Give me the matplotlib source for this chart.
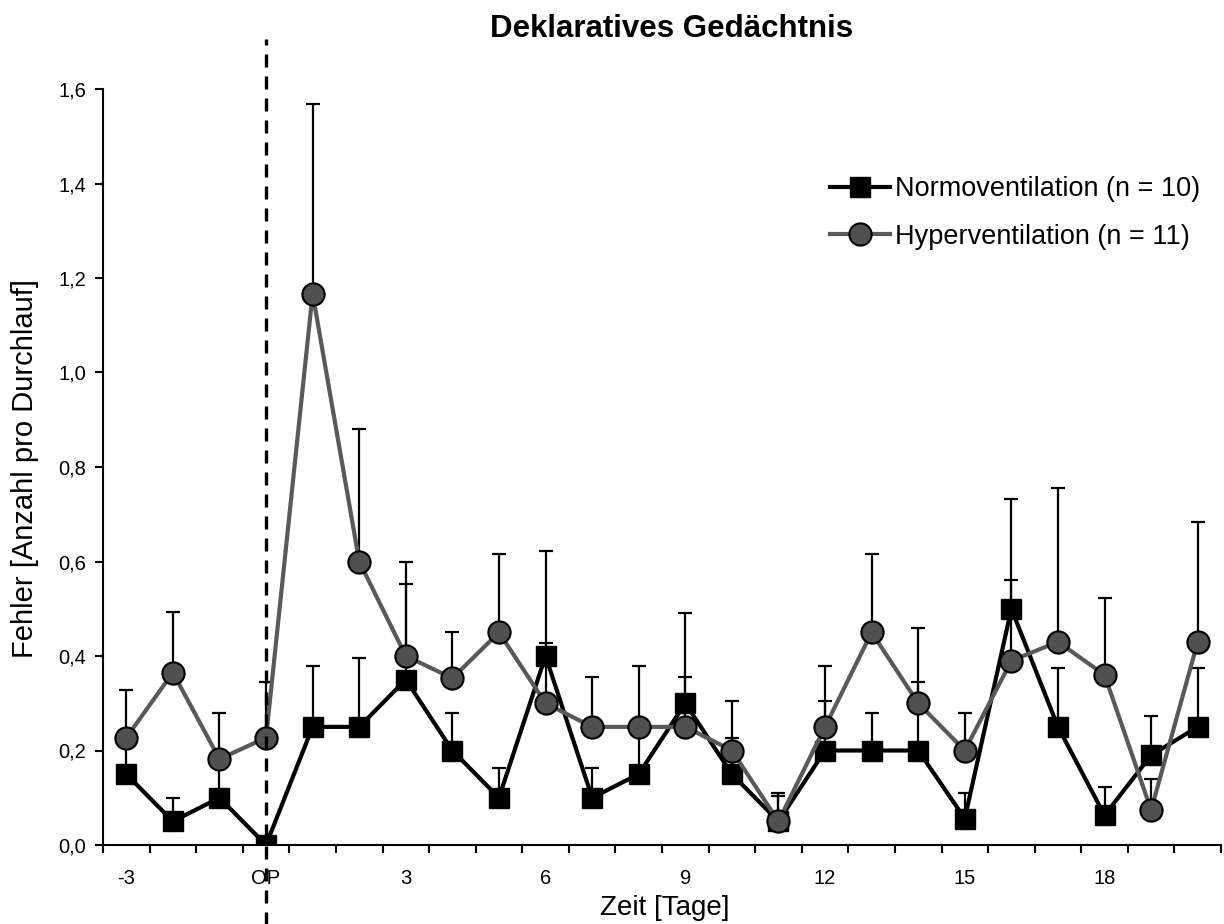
import matplotlib
matplotlib.use("Agg")
import matplotlib.pyplot as plt
from matplotlib import font_manager
import numpy as np

# Study days relative to the operation (day 0 = OP)
days = list(range(-3, 21))

# Normoventilation group: mean errors and upper error-bar ends
normo_mean = [0.15, 0.05, 0.10, 0.00, 0.25, 0.25, 0.35, 0.20, 0.10, 0.40, 0.10, 0.15,
              0.30, 0.15, 0.05, 0.20, 0.20, 0.20, 0.056, 0.50, 0.25, 0.063, 0.19, 0.25]
normo_upper = [0.23, 0.099, 0.18, 0.00, 0.379, 0.395, 0.552, 0.28, 0.164, 0.427, 0.164, 0.25,
               0.356, 0.226, 0.109, 0.305, 0.28, 0.346, 0.109, 0.561, 0.375, 0.122, 0.274, 0.375]

# Hyperventilation group: mean errors and upper error-bar ends
hyper_mean = [0.227, 0.365, 0.182, 0.227, 1.167, 0.60, 0.40, 0.353, 0.45, 0.30, 0.25, 0.25,
              0.25, 0.20, 0.05, 0.25, 0.45, 0.30, 0.20, 0.39, 0.43, 0.36, 0.074, 0.43]
hyper_upper = [0.327, 0.494, 0.28, 0.346, 1.568, 0.881, 0.598, 0.451, 0.616, 0.622, 0.356, 0.379,
               0.49, 0.305, 0.104, 0.379, 0.616, 0.46, 0.279, 0.733, 0.755, 0.523, 0.139, 0.684]

tick_days = [-3, 0, 3, 6, 9, 12, 15, 18]
tick_labels = ["-3", "OP", "3", "6", "9", "12", "15", "18"]
y_ticks = [0.0, 0.2, 0.4, 0.6, 0.8, 1.0, 1.2, 1.4, 1.6]

available = {f.name for f in font_manager.fontManager.ttflist}
main_font = "Liberation Sans" if "Liberation Sans" in available else "DejaVu Sans"
plt.rcParams["font.family"] = [main_font, "DejaVu Sans"]

W, H = 1224, 924
fig = plt.figure(figsize=(W / 100, H / 100), dpi=100)
ax = fig.add_axes([103 / W, 1 - 845 / H, 1118 / W, 756 / H])

x = np.array(days)
nm = np.array(normo_mean)
hm = np.array(hyper_mean)
n_err = np.clip(np.array(normo_upper) - nm, 0, None)
h_err = np.clip(np.array(hyper_upper) - hm, 0, None)

ax.errorbar(x, nm, yerr=[np.zeros_like(n_err), n_err], fmt="none", ecolor="black",
            elinewidth=1.6, capsize=5, capthick=1.6, zorder=2)
ax.errorbar(x, hm, yerr=[np.zeros_like(h_err), h_err], fmt="none", ecolor="black",
            elinewidth=1.6, capsize=5, capthick=1.6, zorder=2)

ax.plot(x, nm, color="black", lw=3, marker="s", ms=14, mfc="black", mec="black",
        label="Normoventilation (n = 10)", zorder=3)
ax.plot(x, hm, color="#595959", lw=3, marker="o", ms=16, mfc="#505050", mec="black",
        mew=1.5, label="Hyperventilation (n = 11)", zorder=4)

# Operation marker: dashed line running past the plotting area
ax.plot([0, 0], [-0.17, 1.706], color="black", lw=2.4, ls=(0, (3.9, 2.7)),
        clip_on=False, zorder=5)

ax.set_xlim(-3.5, 20.5)
ax.set_ylim(0, 1.6)
ax.set_xticks(np.arange(-3.5, 21, 1.0))
ax.set_xticklabels([])
ax.set_xticks(tick_days, minor=True)
ax.set_xticklabels(tick_labels, minor=True, fontsize=14.5)
ax.tick_params(axis="x", which="major", direction="out", length=6, width=1.5)
ax.tick_params(axis="x", which="minor", length=0, pad=17)
ax.set_yticks(y_ticks)
ax.set_yticklabels([f"{v:.1f}".replace(".", ",") for v in y_ticks], fontsize=14.5)
ax.tick_params(axis="y", direction="out", length=6, width=1.5, pad=6)

for side in ("top", "right"):
    ax.spines[side].set_visible(False)
for side in ("left", "bottom"):
    ax.spines[side].set_linewidth(1.5)

fig.text(665 / W, 1 - 915 / H, "Zeit [Tage]", fontsize=20, ha="center", va="baseline")
fig.text(25 / W, 1 - 468 / H, "Fehler [Anzahl pro Durchlauf]", fontsize=21,
         rotation=90, ha="center", va="center")
fig.text(672 / W, 1 - 29 / H, "Deklaratives Gedächtnis", fontsize=22.5,
         fontweight="bold", ha="center", va="center")

fig.legend(loc="upper left", bbox_to_anchor=(830 / W, 1 - 176 / H), frameon=False,
           fontsize=19.5, handlelength=2.2, handletextpad=0.2, labelspacing=0.8,
           borderaxespad=0, borderpad=0)

fig.savefig("out.png", dpi=100)
